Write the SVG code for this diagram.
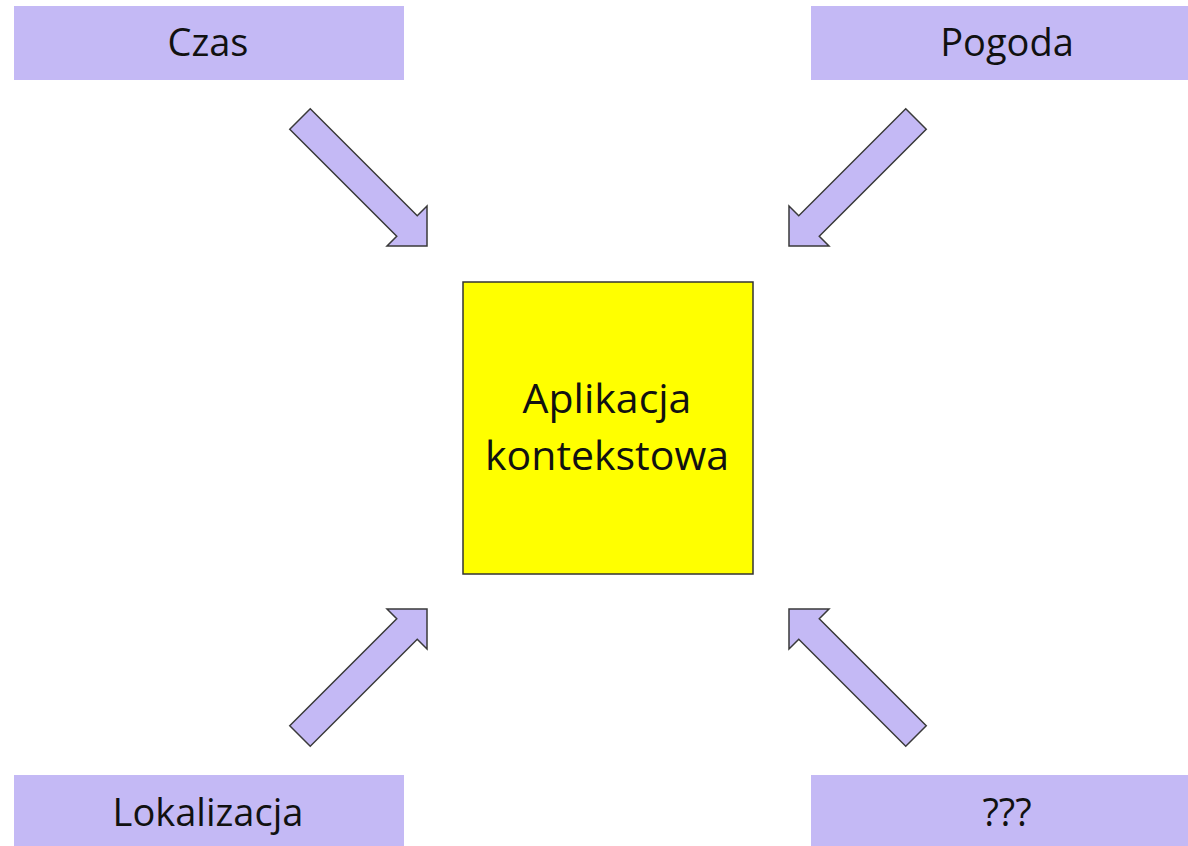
<svg xmlns="http://www.w3.org/2000/svg" width="1188" height="846" viewBox="0 0 1188 846">
<style>
.src{fill:#c4b9f5;}
.lbl{font-family:"Open Sans","Noto Sans",sans-serif;font-size:38px;fill:#111;text-anchor:middle;}
.ctr{font-family:"Open Sans","Noto Sans",sans-serif;font-size:41px;fill:#111;text-anchor:middle;}
.arr{fill:#c4b9f5;stroke:#3a3a3a;stroke-width:1.5;stroke-linejoin:miter;}
</style>
<rect width="1188" height="846" fill="#ffffff"/>
<g id="czas"><rect class="src" x="14" y="6" width="390" height="74"/><text class="lbl" x="208" y="56">Czas</text></g>
<g id="pogoda"><rect class="src" x="811" y="6" width="377" height="74"/><text class="lbl" x="1007" y="56">Pogoda</text></g>
<g id="lokalizacja"><rect class="src" x="14" y="775" width="390" height="71"/><text class="lbl" x="208" y="826">Lokalizacja</text></g>
<g id="unknown"><rect class="src" x="811" y="775" width="377" height="71"/><text class="lbl" x="1007" y="826">???</text></g>
<g id="app"><rect x="463" y="282" width="290" height="292" fill="#ffff00" stroke="#333" stroke-width="1.5"/>
<text class="ctr" x="607" y="413">Aplikacja</text><text class="ctr" x="607" y="470">kontekstowa</text></g>
<g id="connectors">
<polygon class="arr" points="289.75,129.25 310.25,108.75 417.25,215.75 427,206 427,246 387,246 396.75,236.25"/>
<polygon class="arr" points="926.25,129.25 905.75,108.75 798.75,215.75 789,206 789,246 829,246 819.25,236.25"/>
<polygon class="arr" points="289.75,725.75 310.25,746.25 417.25,639.25 427,649 427,609 387,609 396.75,618.75"/>
<polygon class="arr" points="926.25,725.75 905.75,746.25 798.75,639.25 789,649 789,609 829,609 819.25,618.75"/>
</g>
</svg>
